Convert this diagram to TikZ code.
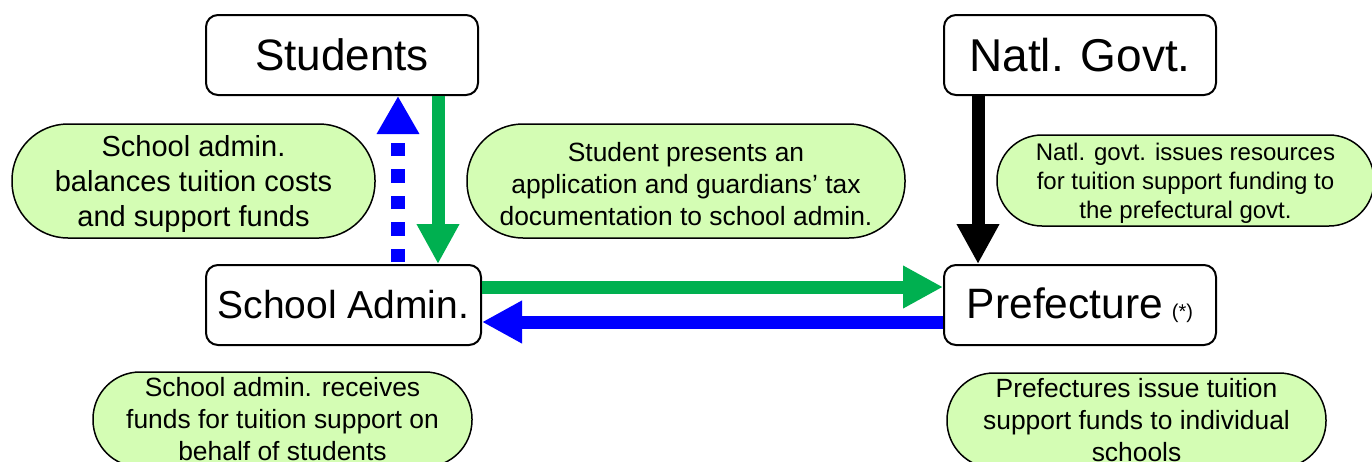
\documentclass[tikz,border=0pt]{standalone}
\usepackage{fontspec}
\setmainfont{Liberation Sans}
\usetikzlibrary{arrows.meta}
\definecolor{bubblegreen}{RGB}{212,253,180}
\definecolor{arrowgreen}{RGB}{0,176,80}
\definecolor{arrowblue}{RGB}{0,0,255}
\newcommand{\toplift}{\rule{0pt}{0.95em}}
\begin{document}
\begin{tikzpicture}[x=1pt,y=-1pt,
  entity/.style={draw=black, line width=2pt, rounded corners=12pt, fill=white,
    minimum width=272pt, minimum height=80pt, inner sep=0pt},
  bubble/.style={draw=black, line width=1.5pt, fill=bubblegreen, inner sep=0pt, align=center},
  flow/.style={line width=13pt, -{Triangle[length=40pt,width=40pt]}},
]
\useasboundingbox (0,0) rectangle (1372,461);
\clip (0,0) rectangle (1372,461);

% entity boxes
\node[entity, font=\fontsize{44}{52}\selectfont] (st) at (342,55) {Students};
\node[entity, font=\fontsize{46}{54}\selectfont] (ng) at (1080,55) {Natl. Govt.};
\node[entity, minimum width=275pt, font=\fontsize{39}{46}\selectfont] (sa) at (343.5,305) {School Admin.};
\node[entity, font=\fontsize{42.5}{50}\selectfont] (pr) at (1080,305) {Prefecture\hspace{9pt}{\fontsize{20}{24}\selectfont(*)}};

% explanation bubbles
\node[bubble, minimum width=363pt, minimum height=114pt, rounded corners=56pt,
  font=\fontsize{29}{35}\selectfont] (b1) at (193.5,181)
  {\toplift School admin.\\balances tuition costs\\and support funds};
\node[bubble, minimum width=438pt, minimum height=114pt, rounded corners=56pt,
  font=\fontsize{26.4}{32}\selectfont] (b2) at (686,181)
  {\toplift Student presents an\\application and guardians’ tax\\documentation to school admin.};
\node[bubble, minimum width=377pt, minimum height=91pt, rounded corners=45pt,
  font=\fontsize{24}{29}\selectfont] (b3) at (1185.5,180.5)
  {\toplift Natl. govt. issues resources\\for tuition support funding to\\the prefectural govt.};
\node[bubble, minimum width=379pt, minimum height=95pt, rounded corners=47pt,
  font=\fontsize{26.4}{32}\selectfont] (b4) at (282.5,419.5)
  {School admin. receives\\funds for tuition support on\\behalf of students};
\node[bubble, minimum width=379pt, minimum height=95pt, rounded corners=47pt,
  font=\fontsize{26.4}{32}\selectfont] (b5) at (1136.5,420.5)
  {Prefectures issue tuition\\support funds to individual\\schools};

% flows
\draw[arrowblue, line width=14pt, dash pattern=on 13.5pt off 13pt, dash phase=24.5pt,
  -{Triangle[length=38pt,width=40pt]}] ([xshift=54.5pt]sa.north) -- ([xshift=56pt]st.south);
\draw[flow, arrowgreen] ([xshift=96pt]st.south) -- ([xshift=94.5pt]sa.north);
\draw[flow, arrowgreen] ([yshift=18pt]sa.east) -- ([yshift=18pt]pr.west);
\draw[flow, arrowblue] ([yshift=-17pt]pr.west) -- ([yshift=-17pt]sa.east);
\draw[flow, black] ([xshift=-102pt]ng.south) -- ([xshift=-102pt]pr.north);
\end{tikzpicture}
\end{document}
